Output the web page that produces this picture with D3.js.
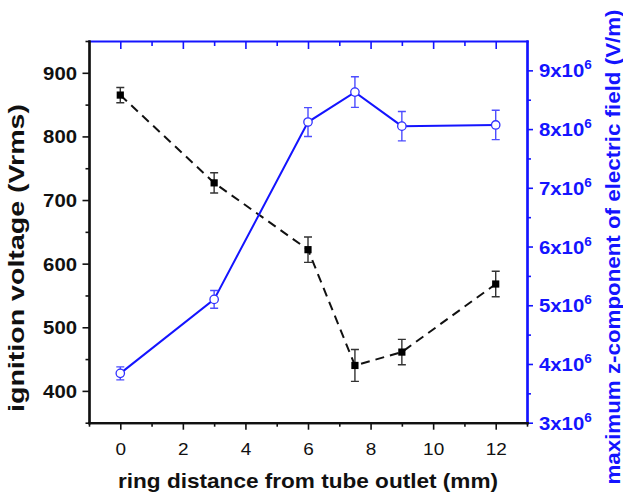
<!DOCTYPE html>
<html>
<head>
<meta charset="utf-8">
<script src="https://cdn.jsdelivr.net/npm/d3@7"></script>
<style>
  html, body { margin: 0; padding: 0; background: #fff; }
  svg { display: block; }
  text { font-family: "Liberation Sans", Arial, sans-serif; }
</style>
</head>
<body>
<svg id="chart" width="623" height="494"></svg>
<script>
// Ring distance from the tube outlet (mm)
const distances = [0, 3, 6, 7.5, 9, 12];
// Ignition voltage (Vrms) with its error
const ignitionVoltage = [865, 727, 622, 440, 461, 568];
const ignitionError = [12, 16, 20, 25, 20, 20];
// Maximum z-component of the electric field (V/m) with its error
const fieldZ = [3.84e6, 5.10e6, 8.12e6, 8.63e6, 8.05e6, 8.07e6];
const fieldError = [0.11e6, 0.15e6, 0.245e6, 0.26e6, 0.25e6, 0.25e6];

// Axis ticks
const xMajorTicks = [0, 2, 4, 6, 8, 10, 12];
const xMinorTicks = [-1, 1, 3, 5, 7, 9, 11, 13];
const xTopTicks = [0, 1, 2, 3, 4, 5, 6, 7, 8, 9, 10, 11, 12];
const voltageMajorTicks = [400, 500, 600, 700, 800, 900];
const voltageMinorTicks = [350, 450, 550, 650, 750, 850, 950];
const fieldMajorTicks = [3e6, 4e6, 5e6, 6e6, 7e6, 8e6, 9e6];
const fieldMinorTicks = [3.5e6, 4.5e6, 5.5e6, 6.5e6, 7.5e6, 8.5e6];

const BLUE = "#1414ff";
const svg = d3.select("#chart");

const plotLeft = 89, plotRight = 527, plotTop = 41, plotBottom = 422.7;
const x = d3.scaleLinear().domain([-1, 13]).range([plotLeft, plotRight]);
const yV = d3.scaleLinear().domain([350, 950]).range([plotBottom, plotTop]);
const yE = d3.scaleLinear().domain([3e6, 9.5e6]).range([plotBottom, plotTop]);

const SX = 1.13; // horizontal widening of tick label glyphs

function styleAxis(g, color, width) {
  g.select(".domain").attr("stroke", color).attr("stroke-width", width);
  g.selectAll(".tick line").attr("stroke", color).attr("stroke-width", 1.6);
}

// ---- top axis (blue, inward ticks)
svg.append("g").attr("transform", `translate(0,${plotTop})`)
  .call(d3.axisTop(x).tickValues(xTopTicks).tickSizeInner(-8).tickSizeOuter(0).tickFormat(""))
  .call(g => styleAxis(g, BLUE, 2.2))
  .call(g => g.selectAll(".tick line").attr("y2", d => d % 2 === 0 ? 8 : 5));

// ---- right axis (blue)
svg.append("g").attr("transform", `translate(${plotRight},0)`)
  .call(d3.axisRight(yE).tickValues(fieldMinorTicks).tickSize(4).tickSizeOuter(0).tickFormat(""))
  .call(g => styleAxis(g, BLUE, 2.2));
const rightAxis = svg.append("g").attr("transform", `translate(${plotRight},0)`)
  .call(d3.axisRight(yE).tickValues(fieldMajorTicks).tickSize(6).tickSizeOuter(0).tickFormat(""))
  .call(g => styleAxis(g, BLUE, 2.2));
rightAxis.selectAll(".tick text").remove();
rightAxis.selectAll(".tick").append("text")
  .attr("fill", BLUE)
  .attr("font-weight", "bold")
  .attr("font-size", 18)
  .attr("text-anchor", "start")
  .attr("transform", `translate(12,6.5) scale(${SX},1)`)
  .call(t => {
    t.append("tspan").text(d => `${d / 1e6}x10`);
    t.append("tspan").attr("font-size", 12).attr("dy", -8).text("6");
  });

// ---- left axis (black)
svg.append("g").attr("transform", `translate(${plotLeft},0)`)
  .call(d3.axisLeft(yV).tickValues(voltageMinorTicks).tickSize(3.5).tickSizeOuter(0).tickFormat(""))
  .call(g => styleAxis(g, "#111", 2.2));
const leftAxis = svg.append("g").attr("transform", `translate(${plotLeft},0)`)
  .call(d3.axisLeft(yV).tickValues(voltageMajorTicks).tickSize(6.5).tickSizeOuter(0))
  .call(g => styleAxis(g, "#111", 2.2));
leftAxis.selectAll(".tick text")
  .attr("x", null).attr("dy", null).attr("y", null)
  .attr("fill", "#111")
  .attr("font-weight", "bold")
  .attr("font-size", 18)
  .attr("font-family", null)
  .attr("text-anchor", "end")
  .attr("transform", `translate(-12,6.5) scale(${SX},1)`);

// ---- bottom axis (black)
svg.append("g").attr("transform", `translate(0,${plotBottom})`)
  .call(d3.axisBottom(x).tickValues(xMinorTicks).tickSize(4).tickSizeOuter(0).tickFormat(""))
  .call(g => styleAxis(g, "#111", 2.2));
const bottomAxis = svg.append("g").attr("transform", `translate(0,${plotBottom})`)
  .call(d3.axisBottom(x).tickValues(xMajorTicks).tickSize(7).tickSizeOuter(0))
  .call(g => styleAxis(g, "#111", 2.2));
bottomAxis.selectAll(".tick text")
  .attr("x", null).attr("dy", null).attr("y", null)
  .attr("fill", "#111")
  .attr("font-size", 16.5)
  .attr("font-family", null)
  .attr("text-anchor", "middle")
  .attr("transform", `translate(0,32.5) scale(1.15,1)`);

svg.selectAll(".domain").attr("stroke-linecap", "square");

// ---- axis titles
svg.append("text")
  .attr("x", 308).attr("y", 488)
  .attr("text-anchor", "middle")
  .attr("font-weight", "bold").attr("font-size", 21)
  .attr("fill", "#111")
  .attr("textLength", 380).attr("lengthAdjust", "spacingAndGlyphs")
  .text("ring distance from tube outlet (mm)");

svg.append("text")
  .attr("transform", "translate(24,258) rotate(-90)")
  .attr("text-anchor", "middle")
  .attr("font-weight", "bold").attr("font-size", 22)
  .attr("fill", "#111")
  .attr("textLength", 308).attr("lengthAdjust", "spacingAndGlyphs")
  .text("ignition voltage (Vrms)");

svg.append("text")
  .attr("transform", "translate(620,247) rotate(-90)")
  .attr("text-anchor", "middle")
  .attr("font-weight", "bold").attr("font-size", 21)
  .attr("fill", BLUE)
  .attr("textLength", 475).attr("lengthAdjust", "spacingAndGlyphs")
  .text("maximum z-component of electric field (V/m)");

// ---- ignition voltage series (black squares, dashed line)
const vData = distances.map((d, i) => ({ x: d, y: ignitionVoltage[i], e: ignitionError[i] }));
const eData = distances.map((d, i) => ({ x: d, y: fieldZ[i], e: fieldError[i] }));

svg.append("path")
  .datum(vData)
  .attr("fill", "none")
  .attr("stroke", "#111")
  .attr("stroke-width", 2)
  .attr("stroke-dasharray", "9,6")
  .attr("d", d3.line().x(d => x(d.x)).y(d => yV(d.y)));

function errorBars(data, yScale, color) {
  const g = svg.append("g").attr("stroke", color).attr("stroke-width", 1.4).attr("fill", "none");
  g.selectAll("path").data(data).join("path")
    .attr("d", d => {
      const cx = x(d.x), y1 = yScale(d.y + d.e), y2 = yScale(d.y - d.e);
      return `M${cx - 4},${y1}H${cx + 4}M${cx},${y1}V${y2}M${cx - 4},${y2}H${cx + 4}`;
    });
}

errorBars(vData, yV, "#333");

svg.append("g").selectAll("rect").data(vData).join("rect")
  .attr("x", d => x(d.x) - 3.6)
  .attr("y", d => yV(d.y) - 3.6)
  .attr("width", 7.2).attr("height", 7.2)
  .attr("fill", "#000");

// ---- electric field series (open blue circles, solid line)
svg.append("path")
  .datum(eData)
  .attr("fill", "none")
  .attr("stroke", BLUE)
  .attr("stroke-width", 2)
  .attr("d", d3.line().x(d => x(d.x)).y(d => yE(d.y)));

errorBars(eData, yE, "#4d4dff");

svg.append("g").selectAll("circle").data(eData).join("circle")
  .attr("cx", d => x(d.x))
  .attr("cy", d => yE(d.y))
  .attr("r", 4.2)
  .attr("fill", "#fff")
  .attr("stroke", "#3030ff")
  .attr("stroke-width", 1.3);
</script>
</body>
</html>
